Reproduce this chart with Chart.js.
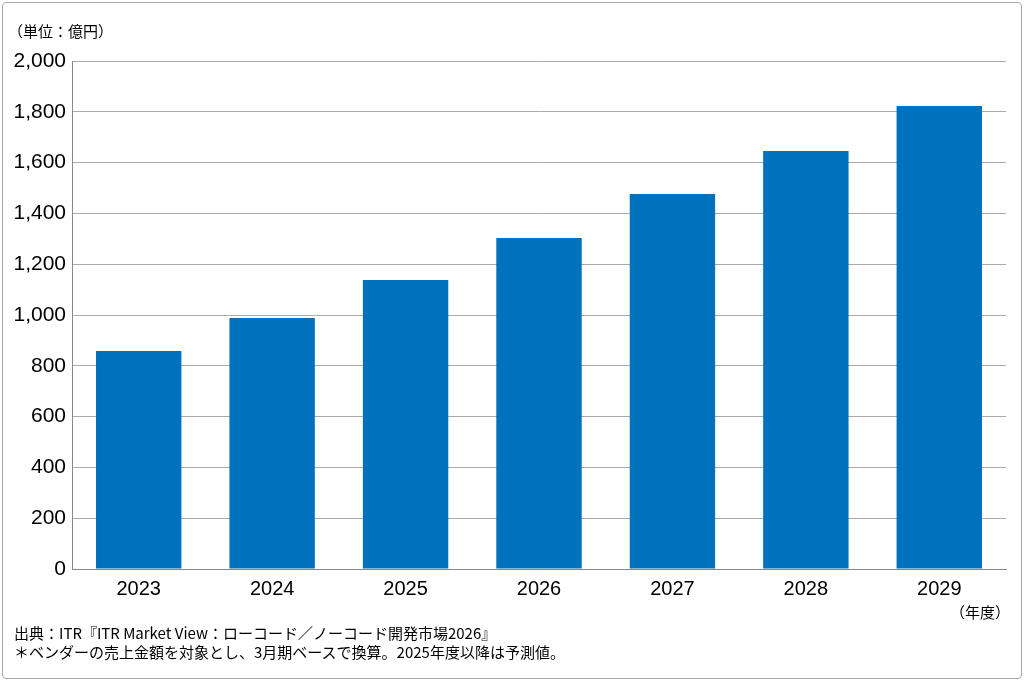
<!DOCTYPE html>
<html><head><meta charset="utf-8">
<script src="https://cdn.jsdelivr.net/npm/chart.js@4"></script>
<style>
body{margin:0;background:#fff;font-family:"Noto Sans CJK JP",Arial,sans-serif;}
#frame{position:absolute;left:2px;top:2px;width:1018px;height:675px;border:1px solid #aaa;border-radius:4px;}
#wrap{position:absolute;left:0;top:0;width:1024px;height:681px;}
.t{position:absolute;font-size:15px;color:#000;white-space:nowrap;}
</style></head><body>
<div id="frame"></div>
<div id="wrap"><canvas id="c" width="1024" height="681"></canvas></div>
<div class="t" style="left:8px;top:20px;">（単位：億円）</div>
<div class="t" style="left:950px;top:601px;">（年度）</div>
<div class="t" style="left:14px;top:622px;">出典：ITR『ITR Market View：ローコード／ノーコード開発市場2026』</div>
<div class="t" style="left:14px;top:641px;">＊ベンダーの売上金額を対象とし、3月期ベースで換算。2025年度以降は予測値。</div>
<script>
const categories=["2023","2024","2025","2026","2027","2028","2029"];
const values=[858,988,1138,1303,1476,1646,1823];
new Chart(document.getElementById('c'),{
type:'bar',
data:{labels:categories,datasets:[{data:values,backgroundColor:'#0071BC',barPercentage:0.64,categoryPercentage:1}]},
options:{responsive:false,animation:false,
layout:{padding:{left:0,top:61,right:18,bottom:80}},
plugins:{legend:{display:false},tooltip:{enabled:false}},
scales:{
x:{grid:{display:false},border:{color:'#888'},ticks:{padding:0,color:'#000',font:{size:20,family:'Arial, Liberation Sans'}}},
y:{min:0,max:2000,afterFit:a=>{a.width=72;},border:{color:'#888'},grid:{color:'#aaa',drawTicks:false},
ticks:{stepSize:200,padding:6,color:'#000',font:{size:21,family:'Arial, Liberation Sans'},callback:v=>v.toLocaleString('en-US')}}
}}});
</script>
</body></html>
